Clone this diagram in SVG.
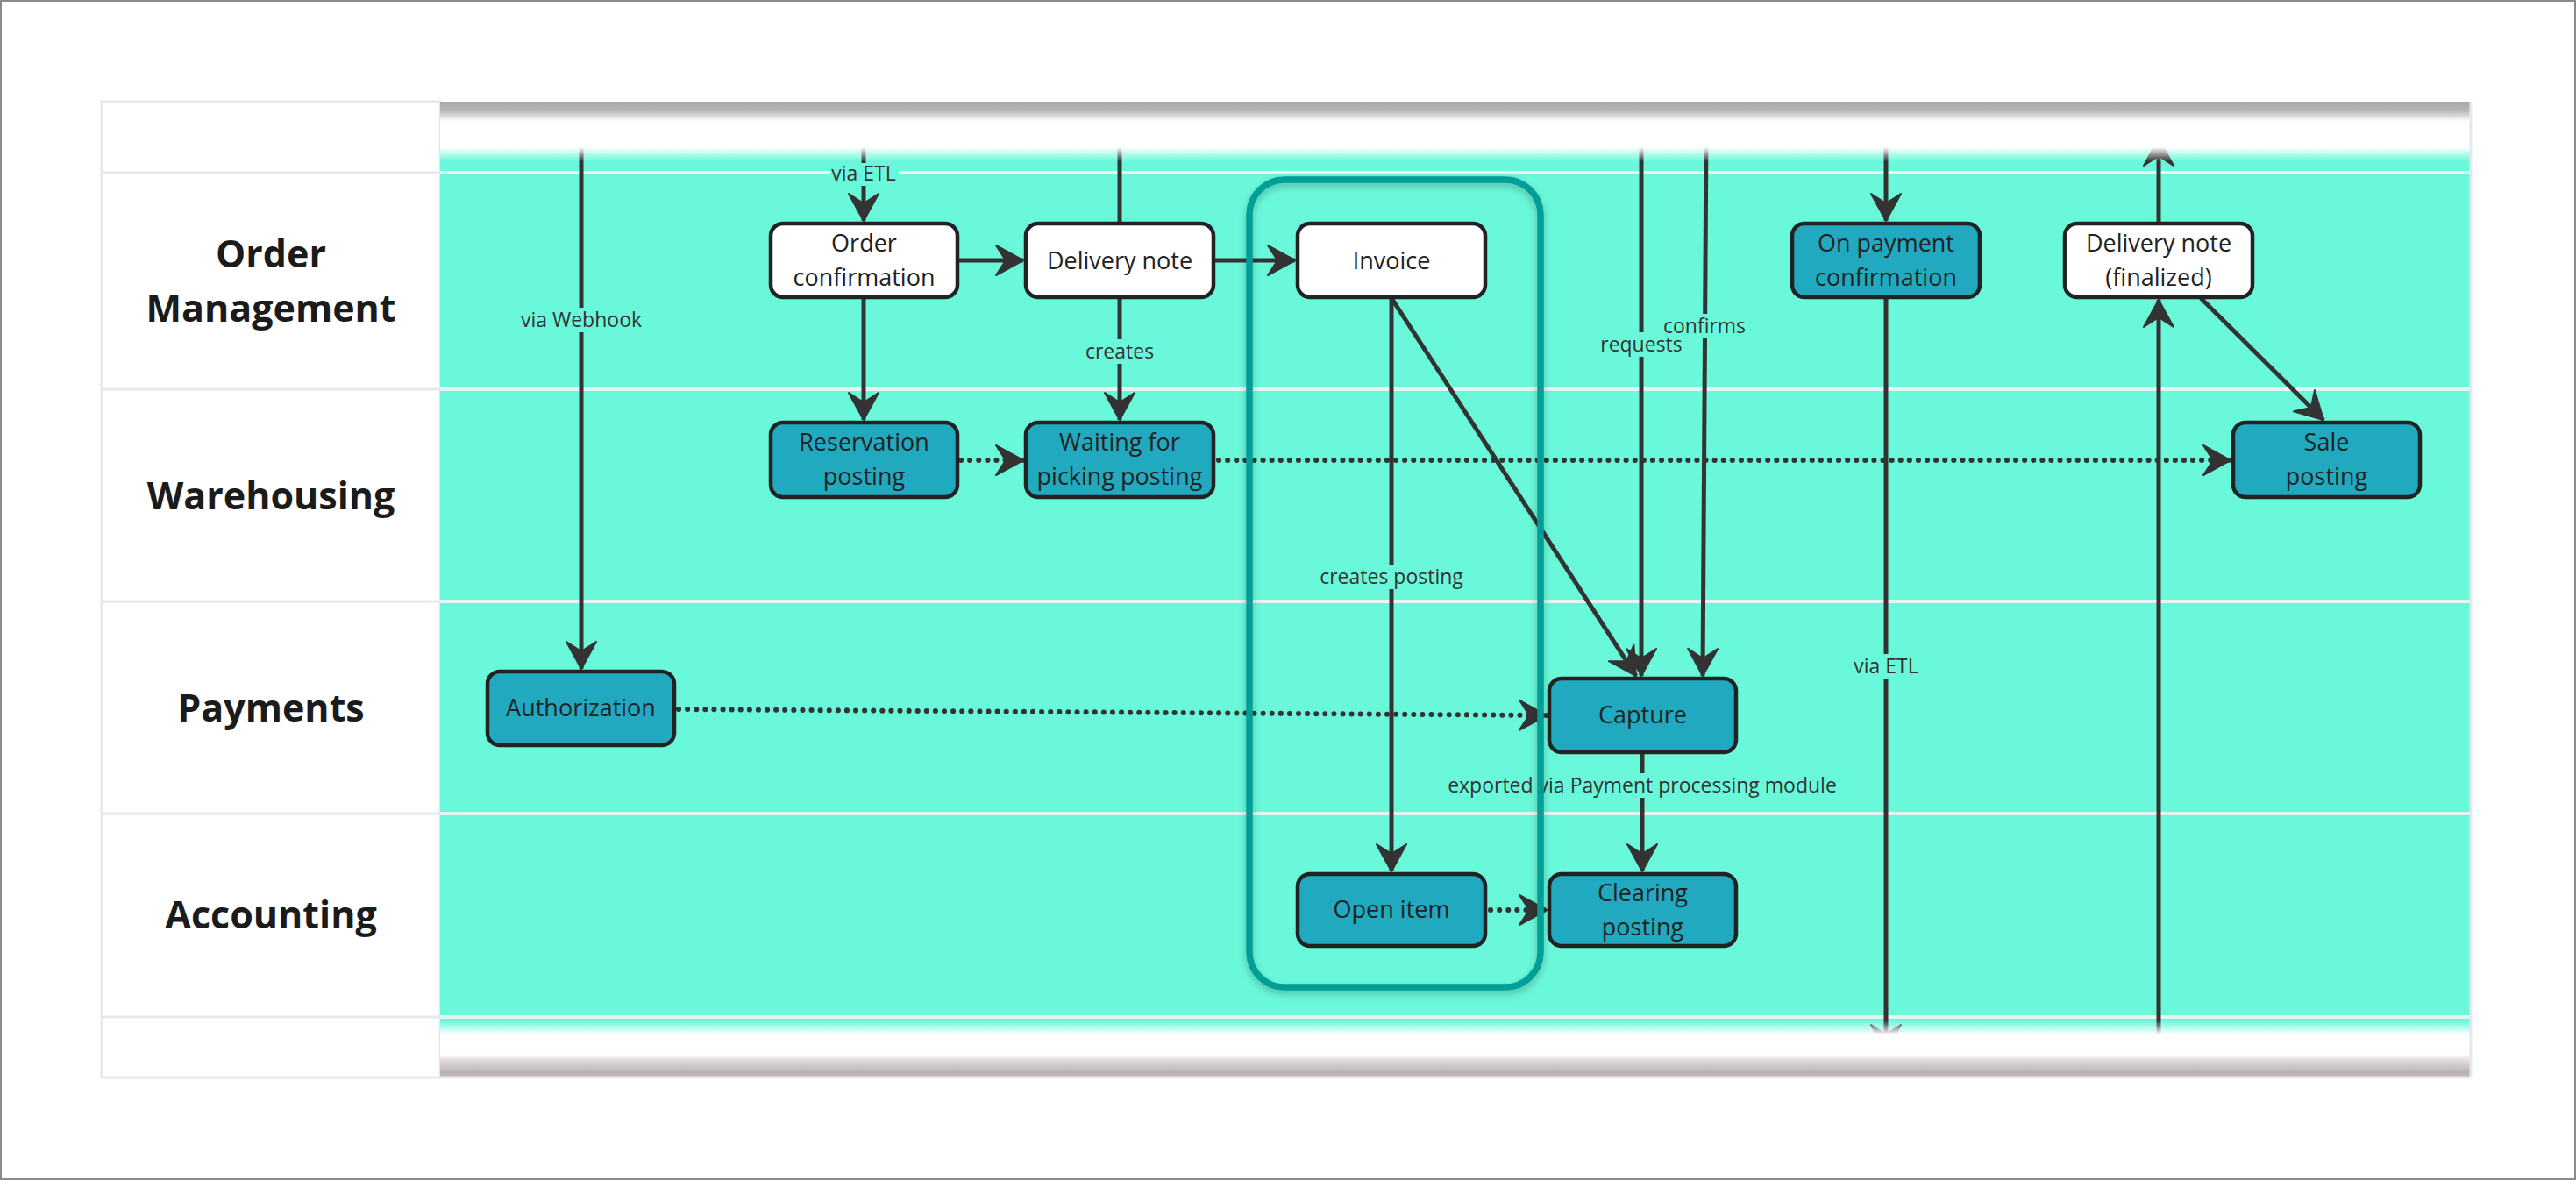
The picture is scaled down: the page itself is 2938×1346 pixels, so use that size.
<svg xmlns="http://www.w3.org/2000/svg" width="2938" height="1346" viewBox="0 0 2938 1346">
<style>
.title{font-family:"Open Sans","Noto Sans",sans-serif;font-weight:700;font-size:43px;fill:#1b1b1b;text-anchor:middle}
.nbox{stroke:#222;stroke-width:4.5}
.white{fill:#ffffff}
.blue{fill:#20a9bf}
.nlabel{font-family:"Open Sans","Noto Sans",sans-serif;font-size:27px;fill:#222;text-anchor:middle}
.edge{stroke:#333;stroke-width:5;fill:none}
.dotted{stroke-dasharray:0.1 10;stroke-linecap:round;stroke-width:6}
.elabel{font-family:"Open Sans","Noto Sans",sans-serif;font-size:23px;fill:#333;text-anchor:middle}
.lbg{fill:#6af8da}
.sepT{stroke:#e4f6f2;stroke-width:4}
.sepH{stroke:#e8e8e8;stroke-width:3}
</style>
<defs>
<marker id="arr" markerUnits="userSpaceOnUse" markerWidth="40" markerHeight="40" viewBox="-36 -20 40 40" refX="0" refY="0" orient="auto">
<path d="M0,0 L-31,-17 L-20,0 L-31,17 Z" fill="#333" stroke="#333" stroke-width="2" stroke-linejoin="round"/>
</marker>
<linearGradient id="topFade" x1="0" y1="0" x2="0" y2="1">
<stop offset="0" stop-color="#a9a9a9" stop-opacity="1"/>
<stop offset="0.12" stop-color="#b4b4b4" stop-opacity="1"/>
<stop offset="0.28" stop-color="#ffffff" stop-opacity="1"/>
<stop offset="0.64" stop-color="#ffffff" stop-opacity="1"/>
<stop offset="0.84" stop-color="#ffffff" stop-opacity="0"/>
<stop offset="1" stop-color="#ffffff" stop-opacity="0"/>
</linearGradient>
<linearGradient id="botFade" x1="0" y1="0" x2="0" y2="1">
<stop offset="0" stop-color="#ffffff" stop-opacity="0"/>
<stop offset="0.06" stop-color="#ffffff" stop-opacity="0"/>
<stop offset="0.29" stop-color="#ffffff" stop-opacity="1"/>
<stop offset="0.62" stop-color="#ffffff" stop-opacity="1"/>
<stop offset="0.72" stop-color="#e0dada" stop-opacity="1"/>
<stop offset="0.92" stop-color="#b9b1b1" stop-opacity="1"/>
<stop offset="1" stop-color="#c4bebe" stop-opacity="1"/>
</linearGradient>
<filter id="gshadow" x="-10%" y="-10%" width="120%" height="120%">
<feDropShadow dx="0" dy="4" stdDeviation="4" flood-color="#000" flood-opacity="0.25"/>
</filter>
</defs>

<rect x="0" y="0" width="2938" height="1346" fill="#ffffff"/>
<rect x="1" y="1" width="2936" height="1344" fill="none" stroke="#8a8a8a" stroke-width="2"/>

<g id="lanes">
<rect x="116" y="116" width="386" height="1113" fill="#ffffff" stroke="#e8e8e8" stroke-width="3"/>
<rect x="502" y="116" width="2316" height="1113" fill="#6af8da"/>
<line class="sepH" x1="116" y1="197" x2="502" y2="197"/>
<line class="sepH" x1="116" y1="444" x2="502" y2="444"/>
<line class="sepH" x1="116" y1="686" x2="502" y2="686"/>
<line class="sepH" x1="116" y1="928" x2="502" y2="928"/>
<line class="sepH" x1="116" y1="1160" x2="502" y2="1160"/>
<line class="sepT" x1="502" y1="197" x2="2818" y2="197"/>
<line class="sepT" x1="502" y1="444" x2="2818" y2="444"/>
<line class="sepT" x1="502" y1="686" x2="2818" y2="686"/>
<line class="sepT" x1="502" y1="928" x2="2818" y2="928"/>
<line class="sepT" x1="502" y1="1160" x2="2818" y2="1160"/>
<text class="title" x="309" y="305">Order</text>
<text class="title" x="309" y="367">Management</text>
<text class="title" x="309" y="581">Warehousing</text>
<text class="title" x="309" y="823">Payments</text>
<text class="title" x="309" y="1059">Accounting</text>
</g>

<g id="connectors">
<path class="edge" d="M663,150 L663,763" marker-end="url(#arr)"/>
<path class="edge" d="M985,150 L985,252" marker-end="url(#arr)"/>
<path class="edge" d="M1277,150 L1277,255"/>
<path class="edge" d="M1092,297 L1167,297" marker-end="url(#arr)"/>
<path class="edge" d="M1384,297 L1477,297" marker-end="url(#arr)"/>
<path class="edge" d="M985,339 L985,479" marker-end="url(#arr)"/>
<path class="edge" d="M1277,339 L1277,479" marker-end="url(#arr)"/>
<path class="edge dotted" d="M1096,525 L1167,525" marker-end="url(#arr)"/>
<path class="edge dotted" d="M1390,525 L2544,525" marker-end="url(#arr)"/>
<path class="edge" d="M1587,339 L1587,994" marker-end="url(#arr)"/>
<path class="edge" d="M1587,340 L1866,771" marker-end="url(#arr)"/>
<path class="edge" d="M1872,150 L1872,771" marker-end="url(#arr)"/>
<path class="edge" d="M1946,150 L1942,771" marker-end="url(#arr)"/>
<path class="edge dotted" d="M774,809 L1764,816" marker-end="url(#arr)"/>
<path class="edge" d="M1873,858 L1873,994" marker-end="url(#arr)"/>
<path class="edge dotted" d="M1700,1038 L1764,1038" marker-end="url(#arr)"/>
<path class="edge" d="M2151,150 L2151,252" marker-end="url(#arr)"/>
<path class="edge" d="M2151,339 L2151,1200" marker-end="url(#arr)"/>
<path class="edge" d="M2462,255 L2462,158" marker-end="url(#arr)"/>
<path class="edge" d="M2462,1215 L2462,342" marker-end="url(#arr)"/>
<path class="edge" d="M2510,340 L2650,479" marker-end="url(#arr)"/>
</g>

<g id="fades">
<rect x="502" y="116" width="2316" height="81" fill="url(#topFade)"/>
<rect x="502" y="1160" width="2316" height="69" fill="url(#botFade)"/>
<line x1="2818" y1="116" x2="2818" y2="1229" stroke="#e8e8e8" stroke-width="3"/>
<line x1="502" y1="1229" x2="2818" y2="1229" stroke="#e8e8e8" stroke-width="3"/>
</g>

<g id="edge-labels">
<rect class="lbg" x="589" y="351" width="148" height="28"/>
<text class="elabel" x="663" y="373">via Webhook</text>
<rect class="lbg" x="947" y="186" width="78" height="26"/>
<text class="elabel" x="985" y="206">via ETL</text>
<rect class="lbg" x="1234" y="387" width="86" height="28"/>
<text class="elabel" x="1277" y="409">creates</text>
<rect class="lbg" x="1502" y="644" width="170" height="28"/>
<text class="elabel" x="1587" y="666">creates posting</text>
<rect class="lbg" x="1824" y="379" width="96" height="28"/>
<text class="elabel" x="1872" y="401">requests</text>
<rect class="lbg" x="1896" y="358" width="96" height="28"/>
<text class="elabel" x="1944" y="380">confirms</text>
<rect class="lbg" x="1645" y="882" width="456" height="28"/>
<text class="elabel" x="1873" y="904">exported via Payment processing module</text>
<rect class="lbg" x="2113" y="746" width="76" height="28"/>
<text class="elabel" x="2151" y="768">via ETL</text>
</g>

<g id="group-invoice" filter="url(#gshadow)">
<rect x="1425" y="205" width="332" height="921" rx="40" ry="40" fill="none" stroke="#009e96" stroke-width="7.5"/>
</g>

<g id="node-order-confirmation">
<rect class="nbox white" x="879" y="255" width="213" height="84" rx="14"/>
<text class="nlabel" x="985.5" y="287">Order</text>
<text class="nlabel" x="985.5" y="326">confirmation</text>
</g>
<g id="node-delivery-note">
<rect class="nbox white" x="1170" y="255" width="214" height="84" rx="14"/>
<text class="nlabel" x="1277" y="307">Delivery note</text>
</g>
<g id="node-invoice">
<rect class="nbox white" x="1480" y="255" width="214" height="84" rx="14"/>
<text class="nlabel" x="1587" y="307">Invoice</text>
</g>
<g id="node-on-payment-confirmation">
<rect class="nbox blue" x="2044" y="255" width="214" height="84" rx="14"/>
<text class="nlabel" x="2151" y="287">On payment</text>
<text class="nlabel" x="2151" y="326">confirmation</text>
</g>
<g id="node-delivery-note-finalized">
<rect class="nbox white" x="2355" y="255" width="214" height="84" rx="14"/>
<text class="nlabel" x="2462" y="287">Delivery note</text>
<text class="nlabel" x="2462" y="326">(finalized)</text>
</g>
<g id="node-reservation-posting">
<rect class="nbox blue" x="879" y="482" width="213" height="85" rx="14"/>
<text class="nlabel" x="985.5" y="514">Reservation</text>
<text class="nlabel" x="985.5" y="553">posting</text>
</g>
<g id="node-waiting-for-picking">
<rect class="nbox blue" x="1170" y="482" width="214" height="85" rx="14"/>
<text class="nlabel" x="1277" y="514">Waiting for</text>
<text class="nlabel" x="1277" y="553">picking posting</text>
</g>
<g id="node-sale-posting">
<rect class="nbox blue" x="2547" y="482" width="213" height="85" rx="14"/>
<text class="nlabel" x="2653.5" y="514">Sale</text>
<text class="nlabel" x="2653.5" y="553">posting</text>
</g>
<g id="node-authorization">
<rect class="nbox blue" x="556" y="766" width="213" height="84" rx="14"/>
<text class="nlabel" x="662.5" y="817">Authorization</text>
</g>
<g id="node-capture">
<rect class="nbox blue" x="1767" y="774" width="213" height="84" rx="14"/>
<text class="nlabel" x="1873.5" y="825">Capture</text>
</g>
<g id="node-open-item">
<rect class="nbox blue" x="1480" y="997" width="214" height="82" rx="14"/>
<text class="nlabel" x="1587" y="1047">Open item</text>
</g>
<g id="node-clearing-posting">
<rect class="nbox blue" x="1767" y="997" width="213" height="82" rx="14"/>
<text class="nlabel" x="1873.5" y="1028">Clearing</text>
<text class="nlabel" x="1873.5" y="1067">posting</text>
</g>
</svg>
